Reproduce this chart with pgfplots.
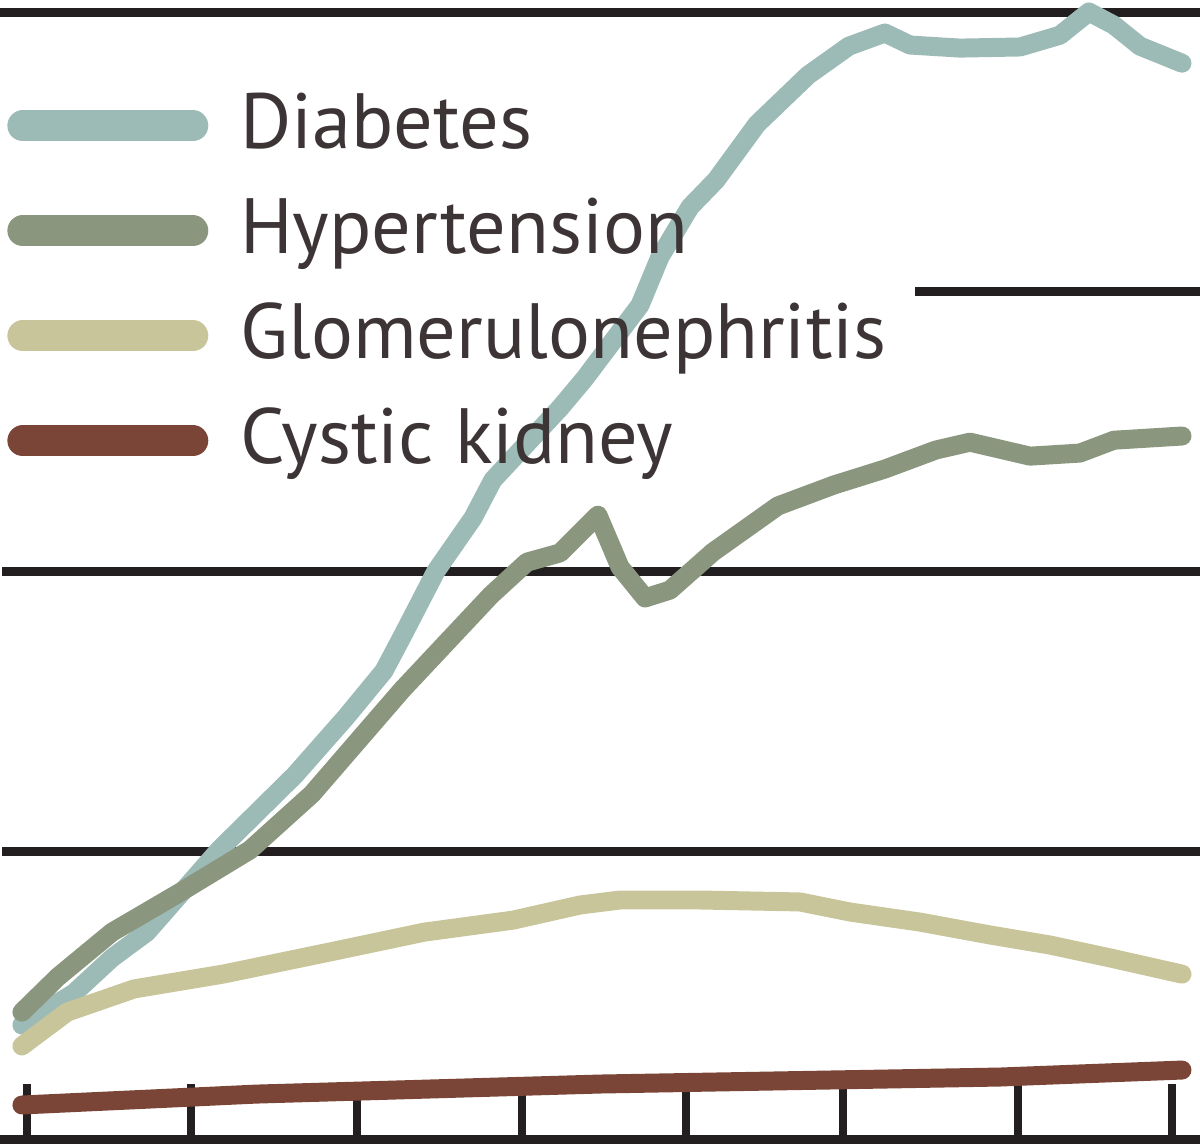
\documentclass[border=0pt]{standalone}
\usepackage{pgfplots}
\pgfplotsset{compat=1.18}
\usepackage{fontspec}
\setmainfont{PT Sans}
\definecolor{diab}{HTML}{9DBBB6}
\definecolor{hyper}{HTML}{8A967E}
\definecolor{glom}{HTML}{C8C59A}
\definecolor{cyst}{HTML}{7A4437}
\definecolor{gridk}{HTML}{231F20}
\definecolor{txt}{HTML}{3D3436}
\begin{document}
\begin{tikzpicture}
\begin{axis}[
  scale only axis, width=12cm, height=11.45cm,
  xmin=-0.165, xmax=7.170, ymin=-0.050, ymax=4.044,
  axis lines=none, xtick=\empty, ytick=\empty,
  clip=true,
  every axis plot/.append style={line width=5.4pt, line join=round, line cap=round},
  legend image code/.code={\draw[#1, line width=8.8pt, line cap=round] (0.185cm,0cm) -- (1.885cm,0cm);},
  legend style={at={(axis cs:-0.12,3.728)}, anchor=north west, draw=none, fill=none,
    inner sep=0pt, outer sep=0pt, row sep=0.3cm,
    font=\fontsize{22.3}{23}\selectfont, text=txt,
    nodes={inner sep=0pt, text height=0.6cm, text depth=0.15cm},
    /tikz/every odd column/.style={column sep=0.32cm}},
  legend cell align=left,
]
% grid lines
\draw[gridk, line width=2.55pt] (axis cs:-0.2,4) -- (axis cs:7.2,4);
\draw[gridk, line width=2.55pt] (axis cs:5.428,3) -- (axis cs:7.2,3);
\draw[gridk, line width=2.55pt] (axis cs:-0.15,2) -- (axis cs:7.2,2);
\draw[gridk, line width=2.55pt] (axis cs:-0.15,1) -- (axis cs:7.2,1);
\draw[gridk, line width=2.55pt] (axis cs:-0.2,-0.032) -- (axis cs:7.2,-0.032);
\foreach \t in {0,1.002,2.017,3.026,4.028,4.988,6.057,6.999}{
  \edef\tmp{\noexpand\draw[gridk, line width=2.4pt] (axis cs:\t,-0.032) -- (axis cs:\t,0.168);}\tmp
}
\addplot[diab] coordinates {
(-0.031,0.379) (0.287,0.493) (0.520,0.619) (0.733,0.711) (1.174,1.005)
(1.638,1.273) (1.950,1.480) (2.182,1.645) (2.304,1.780) (2.500,2.002)
(2.726,2.192) (2.848,2.328) (3.258,2.585) (3.411,2.692) (3.747,2.953)
(3.869,3.125) (4.053,3.304) (4.212,3.400) (4.462,3.600) (4.774,3.775)
(5.024,3.879) (5.244,3.926) (5.397,3.883) (5.703,3.872) (6.070,3.876)
(6.314,3.918) (6.491,4.001) (6.644,3.954) (6.803,3.879) (7.060,3.818)};
\addlegendentry{Diabetes}
\addplot[hyper] coordinates {
(-0.031,0.425) (0.189,0.551) (0.520,0.711) (0.929,0.851) (1.363,1.005)
(1.742,1.205) (2.292,1.577) (2.836,1.916) (3.056,2.034) (3.258,2.067)
(3.490,2.202) (3.625,2.016) (3.778,1.906) (3.930,1.934) (4.193,2.070)
(4.590,2.235) (4.933,2.310) (5.244,2.367) (5.556,2.435) (5.764,2.463)
(6.131,2.413) (6.436,2.424) (6.644,2.470) (7.060,2.485)};
\addlegendentry{Hypertension}
\addplot[glom] coordinates {
(-0.031,0.304) (0.245,0.425) (0.654,0.508) (1.198,0.561) (1.883,0.644)
(2.427,0.711) (2.971,0.754) (3.380,0.808) (3.625,0.826) (4.114,0.826)
(4.725,0.819) (5.031,0.783) (5.458,0.747) (5.886,0.701) (6.253,0.665)
(6.620,0.619) (7.060,0.561)};
\addlegendentry{Glomerulonephritis}
\addplot[cyst] coordinates {
(-0.031,0.093) (1.400,0.132) (3.502,0.168) (5.947,0.193) (7.060,0.218)};
\addlegendentry{Cystic kidney}
\end{axis}
\pgfresetboundingbox
\path[use as bounding box] (current axis.south west) rectangle (current axis.north east);
\end{tikzpicture}
\end{document}
